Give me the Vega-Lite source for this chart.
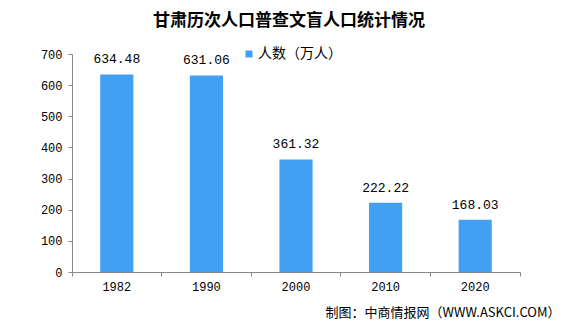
{
  "$schema": "https://vega.github.io/schema/vega-lite/v6.json",
  "width": 448,
  "height": 218,
  "autosize": {"type": "none"},
  "padding": {"left": 72, "top": 54, "right": 56, "bottom": 54},
  "background": "white",
  "title": {
    "text": "甘肃历次人口普查文盲人口统计情况",
    "font": "Noto Sans CJK SC",
    "fontSize": 17,
    "fontWeight": "bold",
    "color": "#000000",
    "anchor": "middle",
    "dx": -7,
    "offset": 17
  },
  "data": {
    "values": [
      {"year": "1982", "value": 634.48, "series": "人数（万人）"},
      {"year": "1990", "value": 631.06, "series": "人数（万人）"},
      {"year": "2000", "value": 361.32, "series": "人数（万人）"},
      {"year": "2010", "value": 222.22, "series": "人数（万人）"},
      {"year": "2020", "value": 168.03, "series": "人数（万人）"}
    ]
  },
  "encoding": {
    "x": {
      "field": "year",
      "type": "nominal",
      "scale": {"paddingInner": 0, "paddingOuter": 0},
      "axis": {
        "labelAngle": 0,
        "bandPosition": 1,
        "tickExtra": true,
        "domainColor": "#888888",
        "tickColor": "#888888",
        "tickSize": 4,
        "labelFont": "Liberation Mono",
        "labelFontSize": 12,
        "labelColor": "#000000",
        "labelPadding": 5,
        "title": "制图：中商情报网（WWW.ASKCI.COM）",
        "titleFont": "Noto Sans CJK SC",
        "titleFontSize": 13,
        "titleFontWeight": "normal",
        "titleColor": "#000000",
        "titleAlign": "right",
        "titleAnchor": null,
        "titleX": 488,
        "titleY": 44,
        "titleBaseline": "alphabetic"
      }
    },
    "y": {
      "field": "value",
      "type": "quantitative",
      "scale": {"domain": [0, 700]},
      "axis": {
        "values": [0, 100, 200, 300, 400, 500, 600, 700],
        "grid": false,
        "domainColor": "#888888",
        "tickColor": "#888888",
        "tickSize": 4,
        "labelFont": "Liberation Mono",
        "labelFontSize": 12,
        "labelColor": "#000000",
        "labelPadding": 6,
        "title": null
      }
    }
  },
  "layer": [
    {
      "mark": {"type": "bar", "width": {"band": 0.37}},
      "encoding": {
        "color": {
          "field": "series",
          "type": "nominal",
          "scale": {"range": ["#41A0F2"]},
          "legend": {
            "title": null,
            "orient": "none",
            "legendX": 170,
            "legendY": -7,
            "padding": 0,
            "symbolType": "square",
            "symbolSize": 49,
            "symbolStrokeWidth": 0,
            "labelOffset": 2,
            "labelFont": "Noto Sans CJK SC",
            "labelFontSize": 14,
            "labelColor": "#000000"
          }
        }
      }
    },
    {
      "mark": {
        "type": "text",
        "font": "Liberation Mono",
        "fontSize": 13,
        "color": "#000000",
        "baseline": "alphabetic",
        "dy": -11
      },
      "encoding": {
        "text": {"field": "value", "type": "quantitative", "format": ".2f"}
      }
    }
  ],
  "config": {"view": {"stroke": null}}
}
